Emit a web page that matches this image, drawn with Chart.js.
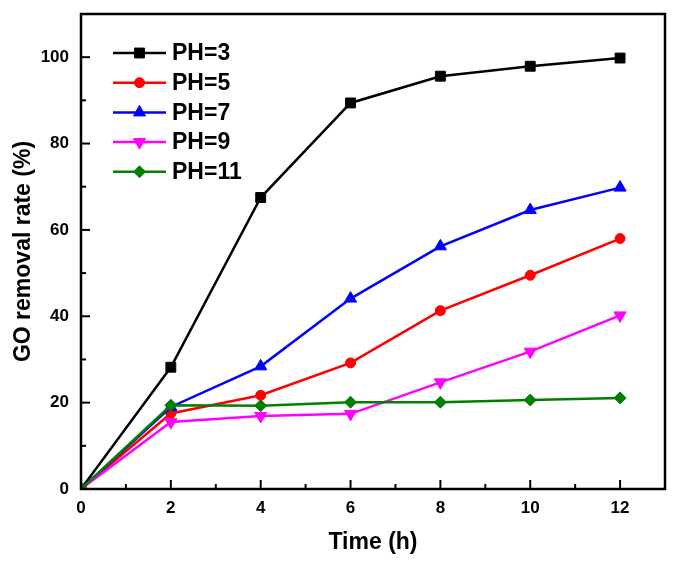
<!DOCTYPE html>
<html>
<head>
<meta charset="utf-8">
<script src="https://cdn.jsdelivr.net/npm/chart.js@4/dist/chart.umd.min.js"></script>
<style>
  html, body { margin: 0; padding: 0; background: #fff; }
  #wrap { width: 685px; height: 565px; }
</style>
</head>
<body>
<div id="wrap"><canvas id="grafico" width="685" height="565"></canvas></div>
<script>
// Dados
const tempos = [0, 2, 4, 6, 8, 10, 12];
const ph3 = [0, 28.2, 67.5, 89.4, 95.6, 97.9, 99.8];
const ph5 = [0, 17.5, 21.7, 29.2, 41.3, 49.5, 58.0];
const ph7 = [0, 19.0, 28.4, 44.1, 56.2, 64.6, 69.8];
const ph9 = [0, 15.5, 16.9, 17.4, 24.7, 31.8, 40.2];
const ph11 = [0, 19.4, 19.3, 20.1, 20.1, 20.6, 21.1];

const rotulos = ['PH=3', 'PH=5', 'PH=7', 'PH=9', 'PH=11'];
const series = [ph3, ph5, ph7, ph9, ph11];
const cores = ['#000000', '#ff0000', '#0000ff', '#ff00ff', '#008000'];
const estilos = [
    { pointStyle: 'rect', radius: 7, rotation: 0 },
    { pointStyle: 'circle', radius: 5, rotation: 0 },
    { pointStyle: 'triangle', radius: 7, rotation: 0 },
    { pointStyle: 'triangle', radius: 7, rotation: 180 },
    { pointStyle: 'rectRot', radius: 6, rotation: 0 }
];

const fonte = "'Liberation Sans', Arial, sans-serif";

const datasets = series.map((valores, i) => ({
    label: rotulos[i],
    data: valores.map((v, j) => ({ x: tempos[j], y: v })),
    borderColor: cores[i],
    backgroundColor: cores[i],
    borderWidth: 2.5,
    tension: 0,
    pointStyle: estilos[i].pointStyle,
    pointRadius: estilos[i].radius,
    pointRotation: estilos[i].rotation,
    pointBorderWidth: 1,
    pointBackgroundColor: cores[i],
    pointBorderColor: cores[i],
    order: series.length - i
}));

// Moldura, marcas internas e legenda
const decoracao = {
    id: 'decoracao',
    afterDraw(chart) {
        const ctx = chart.ctx;
        const area = chart.chartArea;
        const sx = chart.scales.x;
        const sy = chart.scales.y;
        ctx.save();
        ctx.strokeStyle = '#000';
        ctx.lineWidth = 2;
        // marcas do eixo x
        for (let v = 0; v <= 13; v++) {
            const px = sx.getPixelForValue(v);
            const len = v % 2 === 0 ? 9 : 5;
            ctx.beginPath();
            ctx.moveTo(px, area.bottom);
            ctx.lineTo(px, area.bottom - len);
            ctx.stroke();
        }
        // marcas do eixo y
        for (let v = 0; v <= 110; v += 10) {
            const py = sy.getPixelForValue(v);
            const len = v % 20 === 0 ? 9 : 5;
            ctx.beginPath();
            ctx.moveTo(area.left, py);
            ctx.lineTo(area.left + len, py);
            ctx.stroke();
        }
        ctx.lineWidth = 2.5;
        ctx.strokeRect(area.left, area.top, area.right - area.left, area.bottom - area.top);

        // legenda
        ctx.font = `bold 23px ${fonte}`;
        ctx.textBaseline = 'middle';
        ctx.textAlign = 'left';
        chart.data.datasets.forEach((ds, i) => {
            const y = 53 + i * 29.7;
            ctx.strokeStyle = ds.borderColor;
            ctx.lineWidth = 2.5;
            ctx.beginPath();
            ctx.moveTo(113, y);
            ctx.lineTo(166, y);
            ctx.stroke();
            ctx.fillStyle = ds.borderColor;
            ctx.lineWidth = 1;
            Chart.helpers.drawPoint(ctx, {
                pointStyle: ds.pointStyle,
                radius: ds.pointRadius,
                rotation: ds.pointRotation,
                borderWidth: 1
            }, 139.5, y);
            ctx.fillStyle = '#000';
            ctx.fillText(ds.label, 172, y + 1);
        });
        ctx.restore();
    }
};

const ctx = document.getElementById('grafico').getContext('2d');
new Chart(ctx, {
    type: 'line',
    data: { datasets },
    options: {
        responsive: false,
        animation: false,
        layout: { padding: { top: 14, right: 20, left: 0, bottom: 0 } },
        plugins: { legend: { display: false }, tooltip: { enabled: false } },
        scales: {
            x: {
                type: 'linear',
                min: 0,
                max: 13,
                grid: { display: false, drawTicks: false },
                border: { display: false },
                ticks: {
                    stepSize: 2,
                    includeBounds: false,
                    padding: 9,
                    color: '#000',
                    font: { family: fonte, size: 17, weight: 'bold' }
                },
                title: {
                    display: true,
                    text: 'Time (h)',
                    color: '#000',
                    padding: { top: 4, bottom: 9 },
                    font: { family: fonte, size: 23, weight: 'bold' }
                },
                afterFit(scale) {
                    scale.height = 76;
                    scale.paddingLeft = 0;
                    scale.paddingRight = 0;
                }
            },
            y: {
                min: 0,
                max: 110,
                grid: { display: false, drawTicks: false },
                border: { display: false },
                ticks: {
                    stepSize: 20,
                    includeBounds: false,
                    padding: 12,
                    color: '#000',
                    font: { family: fonte, size: 17, weight: 'bold' }
                },
                title: {
                    display: true,
                    text: 'GO removal rate (%)',
                    color: '#000',
                    padding: { top: 10, bottom: 4 },
                    font: { family: fonte, size: 23, weight: 'bold' }
                },
                afterFit(scale) {
                    scale.width = 81;
                    scale.paddingTop = 0;
                    scale.paddingBottom = 0;
                }
            }
        }
    },
    plugins: [decoracao]
});
</script>
</body>
</html>
